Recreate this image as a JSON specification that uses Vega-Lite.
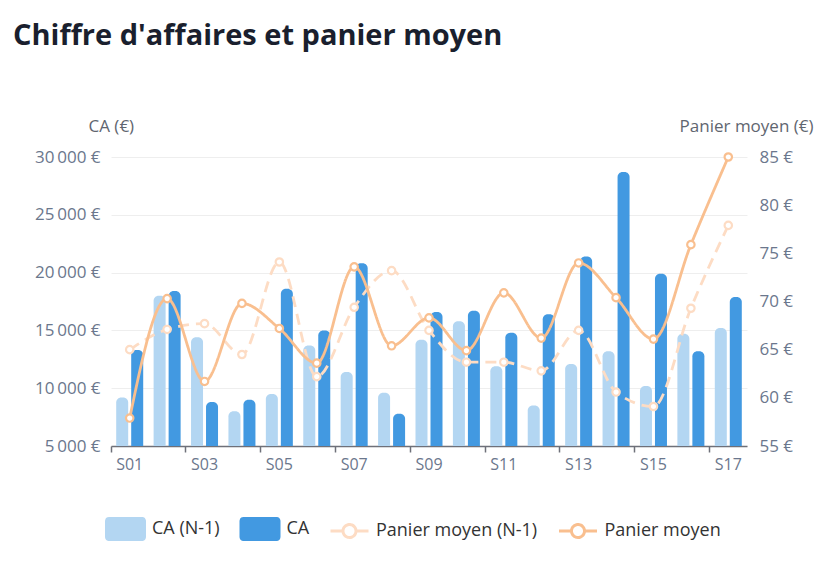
{
  "$schema": "https://vega.github.io/schema/vega-lite/v6.json",
  "width": 636,
  "height": 289,
  "autosize": {"type": "none"},
  "padding": {"left": 111, "top": 157, "right": 80, "bottom": 115},
  "background": "#ffffff",
  "config": {
    "font": "Open Sans",
    "view": {"stroke": null},
    "axis": {"labelFont": "Open Sans", "titleFont": "Open Sans"}
  },
  "title": {
    "text": "Chiffre d'affaires et panier moyen",
    "anchor": "start",
    "frame": "group",
    "dx": -98,
    "font": "Open Sans",
    "fontSize": 29,
    "fontWeight": "bold",
    "color": "#1a1f2e",
    "offset": 66
  },
  "data": {
    "values": [
      {"semaine": "S01", "serie": "CA (N-1)", "valeur": 9200},
      {"semaine": "S01", "serie": "CA", "valeur": 13300},
      {"semaine": "S02", "serie": "CA (N-1)", "valeur": 18000},
      {"semaine": "S02", "serie": "CA", "valeur": 18400},
      {"semaine": "S03", "serie": "CA (N-1)", "valeur": 14400},
      {"semaine": "S03", "serie": "CA", "valeur": 8800},
      {"semaine": "S04", "serie": "CA (N-1)", "valeur": 8000},
      {"semaine": "S04", "serie": "CA", "valeur": 9000},
      {"semaine": "S05", "serie": "CA (N-1)", "valeur": 9500},
      {"semaine": "S05", "serie": "CA", "valeur": 18600},
      {"semaine": "S06", "serie": "CA (N-1)", "valeur": 13700},
      {"semaine": "S06", "serie": "CA", "valeur": 15000},
      {"semaine": "S07", "serie": "CA (N-1)", "valeur": 11400},
      {"semaine": "S07", "serie": "CA", "valeur": 20800},
      {"semaine": "S08", "serie": "CA (N-1)", "valeur": 9600},
      {"semaine": "S08", "serie": "CA", "valeur": 7800},
      {"semaine": "S09", "serie": "CA (N-1)", "valeur": 14200},
      {"semaine": "S09", "serie": "CA", "valeur": 16600},
      {"semaine": "S10", "serie": "CA (N-1)", "valeur": 15800},
      {"semaine": "S10", "serie": "CA", "valeur": 16700},
      {"semaine": "S11", "serie": "CA (N-1)", "valeur": 11900},
      {"semaine": "S11", "serie": "CA", "valeur": 14800},
      {"semaine": "S12", "serie": "CA (N-1)", "valeur": 8500},
      {"semaine": "S12", "serie": "CA", "valeur": 16400},
      {"semaine": "S13", "serie": "CA (N-1)", "valeur": 12100},
      {"semaine": "S13", "serie": "CA", "valeur": 21400},
      {"semaine": "S14", "serie": "CA (N-1)", "valeur": 13200},
      {"semaine": "S14", "serie": "CA", "valeur": 28700},
      {"semaine": "S15", "serie": "CA (N-1)", "valeur": 10200},
      {"semaine": "S15", "serie": "CA", "valeur": 19900},
      {"semaine": "S16", "serie": "CA (N-1)", "valeur": 14700},
      {"semaine": "S16", "serie": "CA", "valeur": 13200},
      {"semaine": "S17", "serie": "CA (N-1)", "valeur": 15200},
      {"semaine": "S17", "serie": "CA", "valeur": 17900},
      {"semaine": "S01", "serie": "Panier moyen (N-1)", "valeur": 65.0},
      {"semaine": "S02", "serie": "Panier moyen (N-1)", "valeur": 67.1},
      {"semaine": "S03", "serie": "Panier moyen (N-1)", "valeur": 67.7},
      {"semaine": "S04", "serie": "Panier moyen (N-1)", "valeur": 64.5},
      {"semaine": "S05", "serie": "Panier moyen (N-1)", "valeur": 74.1},
      {"semaine": "S06", "serie": "Panier moyen (N-1)", "valeur": 62.2},
      {"semaine": "S07", "serie": "Panier moyen (N-1)", "valeur": 69.4},
      {"semaine": "S08", "serie": "Panier moyen (N-1)", "valeur": 73.2},
      {"semaine": "S09", "serie": "Panier moyen (N-1)", "valeur": 67.0},
      {"semaine": "S10", "serie": "Panier moyen (N-1)", "valeur": 63.7},
      {"semaine": "S11", "serie": "Panier moyen (N-1)", "valeur": 63.7},
      {"semaine": "S12", "serie": "Panier moyen (N-1)", "valeur": 62.8},
      {"semaine": "S13", "serie": "Panier moyen (N-1)", "valeur": 67.0},
      {"semaine": "S14", "serie": "Panier moyen (N-1)", "valeur": 60.6},
      {"semaine": "S15", "serie": "Panier moyen (N-1)", "valeur": 59.1},
      {"semaine": "S16", "serie": "Panier moyen (N-1)", "valeur": 69.3},
      {"semaine": "S17", "serie": "Panier moyen (N-1)", "valeur": 77.9},
      {"semaine": "S01", "serie": "Panier moyen", "valeur": 57.9},
      {"semaine": "S02", "serie": "Panier moyen", "valeur": 70.3},
      {"semaine": "S03", "serie": "Panier moyen", "valeur": 61.7},
      {"semaine": "S04", "serie": "Panier moyen", "valeur": 69.8},
      {"semaine": "S05", "serie": "Panier moyen", "valeur": 67.2},
      {"semaine": "S06", "serie": "Panier moyen", "valeur": 63.6},
      {"semaine": "S07", "serie": "Panier moyen", "valeur": 73.6},
      {"semaine": "S08", "serie": "Panier moyen", "valeur": 65.4},
      {"semaine": "S09", "serie": "Panier moyen", "valeur": 68.3},
      {"semaine": "S10", "serie": "Panier moyen", "valeur": 64.9},
      {"semaine": "S11", "serie": "Panier moyen", "valeur": 70.9},
      {"semaine": "S12", "serie": "Panier moyen", "valeur": 66.2},
      {"semaine": "S13", "serie": "Panier moyen", "valeur": 74.0},
      {"semaine": "S14", "serie": "Panier moyen", "valeur": 70.4},
      {"semaine": "S15", "serie": "Panier moyen", "valeur": 66.1},
      {"semaine": "S16", "serie": "Panier moyen", "valeur": 75.9},
      {"semaine": "S17", "serie": "Panier moyen", "valeur": 85.0}
    ]
  },
  "encoding": {
    "x": {
      "field": "semaine",
      "type": "nominal",
      "sort": null,
      "scale": {"paddingInner": 0, "paddingOuter": 0},
      "axis": {
        "title": null,
        "values": ["S01", "S03", "S05", "S07", "S09", "S11", "S13", "S15", "S17"],
        "bandPosition": 0,
        "labelAngle": 0,
        "labelFontSize": 16,
        "labelColor": "#6b778d",
        "labelPadding": 4,
        "domainColor": "#6e7079",
        "domainWidth": 1.5,
        "tickColor": "#6e7079",
        "tickWidth": 1.5,
        "tickSize": 6,
        "grid": false
      }
    },
    "color": {
      "field": "serie",
      "type": "nominal",
      "scale": {
        "domain": ["CA (N-1)", "CA", "Panier moyen (N-1)", "Panier moyen"],
        "range": ["#b3d6f2", "#4299e1", "#fddcc4", "#f9bf8f"]
      },
      "legend": {
        "title": null,
        "orient": "none",
        "legendX": -6,
        "legendY": 351,
        "direction": "horizontal",
        "columns": 4,
        "padding": 0,
        "columnPadding": 14.5,
        "labelOffset": 6,
        "labelFontSize": 18,
        "labelFont": "Open Sans",
        "labelColor": "#333333",
        "symbolSize": 1444,
        "symbolStrokeWidth": 3,
        "labelLimit": 300,
        "encode": {
          "symbols": {
            "update": {
              "shape": {"signal": "(datum.value == 'CA (N-1)' || datum.value == 'CA') ? 'M-0.85,-0.553 L0.85,-0.553 Q1,-0.553 1,-0.4 L1,0.4 Q1,0.553 0.85,0.553 L-0.85,0.553 Q-1,0.553 -1,0.4 L-1,-0.4 Q-1,-0.553 -0.85,-0.553 Z' : 'M-1,0 L-0.342,0 M0.342,0 L1,0 M-0.342,0 A0.342,0.342 0 1,0 0.342,0 A0.342,0.342 0 1,0 -0.342,0 Z'"},
              "fill": {"signal": "datum.value == 'CA (N-1)' ? '#b3d6f2' : datum.value == 'CA' ? '#4299e1' : '#ffffff'"},
              "fillOpacity": {"signal": "(datum.value == 'CA (N-1)' || datum.value == 'CA') ? 1 : 0"},
              "stroke": {"signal": "datum.value == 'Panier moyen (N-1)' ? '#fddcc4' : datum.value == 'Panier moyen' ? '#f9bf8f' : 'transparent'"},
              "size": {"value": 1444},
              "strokeWidth": {"value": 3},
              "opacity": {"value": 1},
              "strokeDash": {"value": [1, 0]}
            }
          }
        }
      }
    }
  },
  "layer": [
    {
      "transform": [{"filter": "datum.serie == 'CA (N-1)' || datum.serie == 'CA'"}],
      "mark": {"type": "bar", "cornerRadiusTopLeft": 5, "cornerRadiusTopRight": 5},
      "encoding": {
        "xOffset": {
          "field": "serie",
          "type": "nominal",
          "scale": {"domain": ["CA (N-1)", "CA"], "paddingInner": 0.2, "paddingOuter": 0.347}
        },
        "y": {
          "field": "valeur",
          "type": "quantitative",
          "scale": {"domain": [5000, 30000], "zero": false, "nice": false},
          "axis": {
            "title": "CA (€)",
            "titleAngle": 0,
            "titleAlign": "left",
            "titleBaseline": "alphabetic",
            "titleX": -23,
            "titleY": -26,
            "titleFontSize": 17,
            "titleFontWeight": "normal",
            "titleColor": "#5f6670",
            "values": [5000, 10000, 15000, 20000, 25000, 30000],
            "labelExpr": "replace(format(datum.value, ',.0f'), ',', '\u2009') + ' €'",
            "labelFontSize": 17,
            "labelColor": "#6b778d",
            "labelPadding": 11,
            "ticks": false,
            "domain": false,
            "grid": true,
            "gridColor": "#eeeeee",
            "gridWidth": 1
          }
        },
        "y2": {"datum": 5000}
      }
    },
    {
      "transform": [{"filter": "datum.serie == 'Panier moyen (N-1)' || datum.serie == 'Panier moyen'"}],
      "encoding": {
        "y": {
          "field": "valeur",
          "type": "quantitative",
          "scale": {"domain": [55, 85], "zero": false, "nice": false},
          "axis": {
            "orient": "right",
            "title": "Panier moyen (€)",
            "titleAngle": 0,
            "titleAlign": "right",
            "titleBaseline": "alphabetic",
            "titleX": 66,
            "titleY": -26,
            "titleFontSize": 17,
            "titleFontWeight": "normal",
            "titleColor": "#5f6670",
            "values": [55, 60, 65, 70, 75, 80, 85],
            "labelExpr": "datum.value + ' €'",
            "labelFontSize": 17,
            "labelColor": "#6b778d",
            "labelPadding": 12,
            "ticks": false,
            "domain": false,
            "grid": false
          }
        }
      },
      "layer": [
        {
          "mark": {"type": "line", "interpolate": "monotone", "strokeWidth": 2.8},
          "encoding": {
            "strokeDash": {
              "field": "serie",
              "type": "nominal",
              "scale": {"domain": ["Panier moyen (N-1)", "Panier moyen"], "range": [[11, 7], [1, 0]]},
              "legend": null
            }
          }
        },
        {
          "mark": {"type": "point", "shape": "circle", "filled": false, "fill": "#ffffff", "fillOpacity": 1, "opacity": 1, "size": 55, "strokeWidth": 2.2}
        }
      ]
    }
  ],
  "resolve": {"scale": {"y": "independent"}}
}
